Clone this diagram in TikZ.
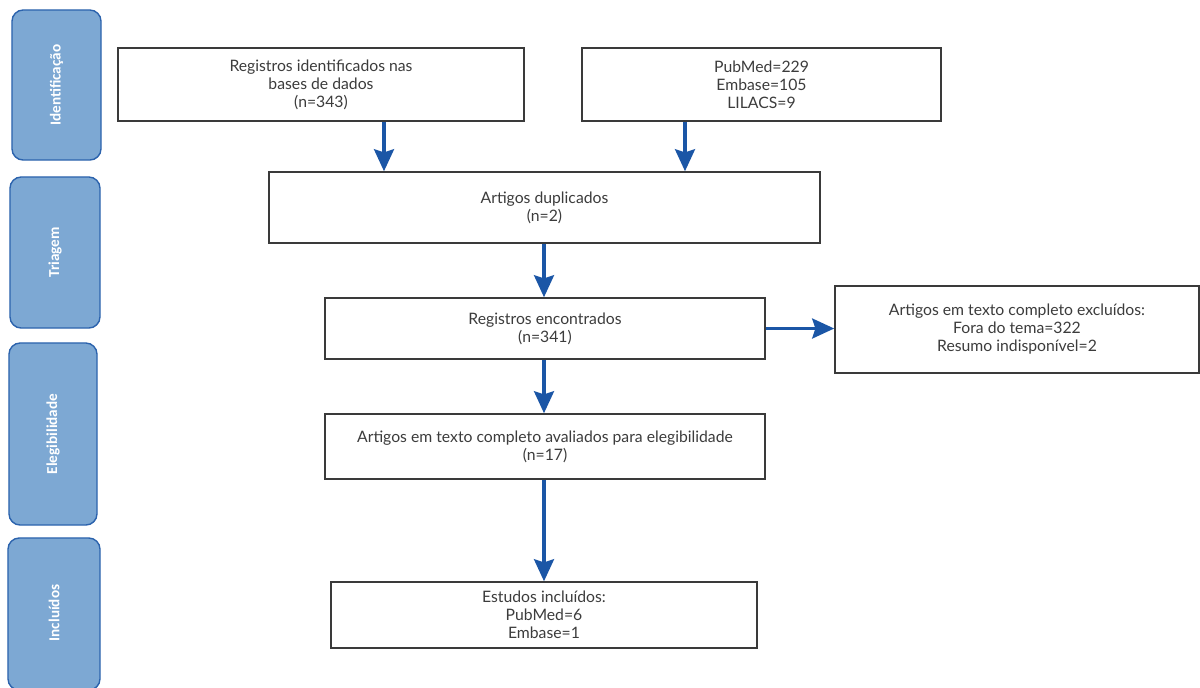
\documentclass[tikz,border=0pt]{standalone}
\usepackage{fontspec}
\setmainfont{Lato}
\newfontfamily\sidefont{Carlito}
\usetikzlibrary{arrows.meta,calc}
\definecolor{sidefill}{HTML}{7DA8D3}
\definecolor{sideline}{HTML}{2C63AD}
\definecolor{arrowblue}{HTML}{1B56A6}
\definecolor{boxline}{HTML}{3A3A3A}
\definecolor{txt}{HTML}{3C3C3C}
\tikzset{
  flowbox/.style={draw=boxline, line width=1.1pt, fill=white, align=center, text=txt,
    font=\fontsize{11.2}{12.8}\selectfont, inner sep=0pt},
  sidebox/.style={draw=sideline, line width=1pt, fill=sidefill, rounded corners=0.28cm},
  sidelabel/.style={rotate=90, text=white, font=\sidefont\bfseries\fontsize{10.8}{12}\selectfont},
  arr/.style={draw=arrowblue, line width=2.2pt,
    -{Stealth[length=0.55cm, width=0.5cm, inset=0.08cm]}},
}
\begin{document}
\begin{tikzpicture}[x=0.025cm, y=-0.025cm]
\clip (0,0) rectangle (1200,687);
\fill[white] (0,0) rectangle (1200,687);

% side stage boxes
\node[sidebox, minimum width=2.225cm, minimum height=3.75cm] (s1) at (56.5,85) {};
\node[sidelabel] (l1) at (s1.center) {Identificação};
\node[sidebox, minimum width=2.25cm, minimum height=3.775cm] (s2) at (55,252.5) {};
\node[sidelabel] (l2) at (s2.center) {Triagem};
\node[sidebox, minimum width=2.2cm, minimum height=4.55cm] (s3) at (53,434) {};
\node[sidelabel] (l3) at (s3.center) {Elegibilidade};
\node[sidebox, minimum width=2.3cm, minimum height=3.8cm] (s4) at (54,614) {};
\node[sidelabel] (l4) at (54,613) {Incluídos};

% flow boxes
\node[flowbox, minimum width=10.15cm, minimum height=1.825cm] (A) at (321,84.5)
  {Registros identificados nas\\bases de dados\\(n=343)};
\node[flowbox, minimum width=8.975cm, minimum height=1.825cm] (B) at (761.5,84.5)
  {PubMed=229\\Embase=105\\LILACS=9};
\node[flowbox, minimum width=13.775cm, minimum height=1.775cm] (C) at (544.5,207.5)
  {Artigos duplicados\\(n=2)};
\node[flowbox, minimum width=11cm, minimum height=1.525cm] (D) at (545,328.5)
  {Registros encontrados\\(n=341)};
\node[flowbox, minimum width=9.1cm, minimum height=2.175cm] (E) at (1017,329.5)
  {Artigos em texto completo excluídos:\\Fora do tema=322\\Resumo indisponível=2};
\node[flowbox, minimum width=11cm, minimum height=1.625cm] (F) at (545,446.5)
  {Artigos em texto completo avaliados para elegibilidade\\(n=17)};
\node[flowbox, minimum width=10.65cm, minimum height=1.65cm] (G) at (544,615)
  {Estudos incluídos:\\PubMed=6\\Embase=1};

% connectors
\coordinate (xa) at (384,0);
\coordinate (xb) at (685,0);
\coordinate (xc) at (544,0);
\draw[arr] (A.south -| xa) -- (C.north -| xa);
\draw[arr] (B.south -| xb) -- (C.north -| xb);
\draw[arr] (C.south -| xc) -- (D.north -| xc);
\draw[arr] (D.east) -- (D.east -| E.west);
\draw[arr] (D.south -| xc) -- (F.north -| xc);
\draw[arr] (F.south -| xc) -- (G.north -| xc);
\end{tikzpicture}
\end{document}
